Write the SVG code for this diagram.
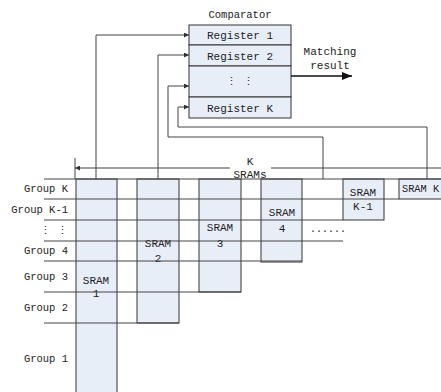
<svg xmlns="http://www.w3.org/2000/svg" width="441" height="392" viewBox="0 0 441 392">
<style>
text{font-family:"Liberation Mono","DejaVu Sans Mono",monospace;font-size:11px;fill:#222}
.c{text-anchor:middle}
.r{text-anchor:end}
.g{font-size:10.5px}
.box{fill:#e8eef8;stroke:#333;stroke-width:1}
.ln{fill:none;stroke:#444;stroke-width:1}
</style>
<defs>
<marker id="ah" viewBox="0 0 6 6" refX="6" refY="3" markerWidth="5" markerHeight="5" orient="auto" markerUnits="userSpaceOnUse">
<path d="M0,0 L6,3 L0,6 z" fill="#333"/>
</marker>
<marker id="big" viewBox="0 0 10 8" refX="10" refY="4" markerWidth="10" markerHeight="8" orient="auto" markerUnits="userSpaceOnUse">
<path d="M0,0 L10,4 L0,8 z" fill="#111"/>
</marker>
</defs>
<rect width="441" height="392" fill="#fff"/>

<g id="comparator">
<text class="c" x="240" y="18" style="font-size:10.5px">Comparator</text>
<rect class="box" x="189" y="25" width="102" height="20"/>
<rect class="box" x="189" y="45" width="102" height="21"/>
<rect class="box" x="189" y="66" width="102" height="31"/>
<rect class="box" x="189" y="97" width="102" height="21"/>
<text class="c" x="240" y="39">Register 1</text>
<text class="c" x="240" y="60">Register 2</text>
<text class="c" x="240" y="85">⋮ ⋮</text>
<text class="c" x="240" y="112">Register K</text>
</g>

<g id="sram1"><rect class="box" x="76" y="179" width="41" height="215"/><text class="c" x="96" y="284">SRAM</text><text class="c" x="96" y="297">1</text></g>
<g id="sram2"><rect class="box" x="137" y="179" width="42" height="144"/><text class="c" x="158" y="247">SRAM</text><text class="c" x="158" y="262">2</text></g>
<g id="sram3"><rect class="box" x="199" y="179" width="42" height="113"/><text class="c" x="220" y="231">SRAM</text><text class="c" x="220" y="247">3</text></g>
<g id="sram4"><rect class="box" x="261" y="179" width="41" height="83"/><text class="c" x="282" y="216">SRAM</text><text class="c" x="282" y="232">4</text></g>
<g id="sramk1"><rect class="box" x="343" y="179" width="41" height="41"/><text class="c" x="363" y="196">SRAM</text><text class="c" x="363" y="210">K-1</text></g>
<g id="sramk"><rect class="box" x="399" y="179" width="44" height="20"/><text x="402" y="192" style="font-size:10.3px">SRAM K</text></g>

<g id="groups">
<text class="r g" x="68" y="192">Group K</text>
<text class="r g" x="68" y="213">Group K-1</text>
<text class="r g" x="68" y="234">⋮ ⋮</text>
<text class="r g" x="68" y="254">Group 4</text>
<text class="r g" x="68" y="280">Group 3</text>
<text class="r g" x="68" y="311">Group 2</text>
<text class="r g" x="68" y="362">Group 1</text>
</g>

<g id="connectors">
<line class="ln" x1="44" y1="179" x2="441" y2="179"/>
<line class="ln" x1="44" y1="199" x2="399" y2="199"/>
<line class="ln" x1="44" y1="220" x2="343" y2="220"/>
<line class="ln" x1="44" y1="241" x2="343" y2="241"/>
<line class="ln" x1="44" y1="261" x2="302" y2="261"/>
<line class="ln" x1="44" y1="292" x2="241" y2="292"/>
<line class="ln" x1="44" y1="323" x2="179" y2="323"/>
<path class="ln" d="M96,179 V35 H189" marker-end="url(#ah)"/>
<path class="ln" d="M158,179 V55 H189" marker-end="url(#ah)"/>
<path class="ln" d="M323,179 V137 H168 V86 H189" marker-end="url(#ah)"/>
<path class="ln" d="M427,179 V127 H178 V107 H189" marker-end="url(#ah)"/>
<line class="ln" x1="75" y1="158" x2="75" y2="179"/>
<path class="ln" d="M230,168 H75" marker-end="url(#ah)"/>
<path class="ln" d="M271,168 H441"/>
<path d="M291,76 H352" fill="none" stroke="#111" stroke-width="1.5" marker-end="url(#big)"/>
</g>

<text class="c" x="250" y="165">K</text>
<text class="c" x="250" y="178">SRAMs</text>
<text class="c" x="330" y="55">Matching</text>
<text class="c" x="330" y="69">result</text>
<text x="310" y="232" style="font-size:10px">......</text>
</svg>
